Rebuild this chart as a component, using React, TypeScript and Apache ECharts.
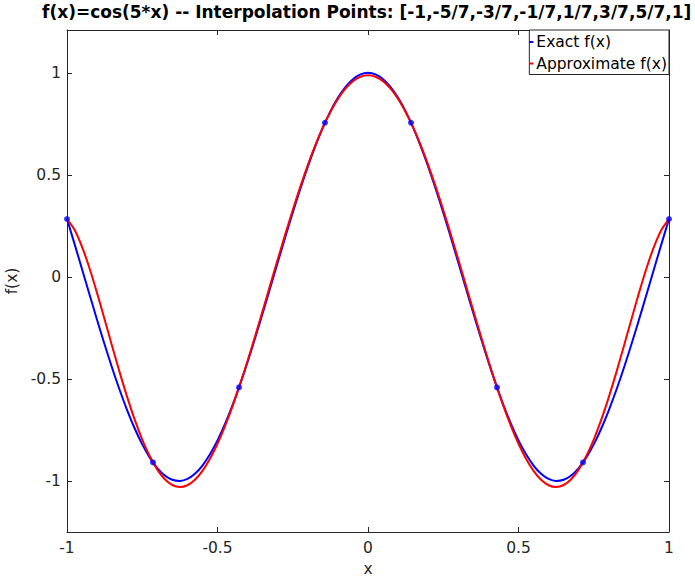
import React, { useEffect, useRef } from "react";
import * as echarts from "echarts";

const titleText = "f(x)=cos(5*x) -- Interpolation Points: [-1,-5/7,-3/7,-1/7,1/7,3/7,5/7,1]";
const seriesNames = ["Exact f(x)", "Approximate f(x)"];

const xs = [
  -1, -0.975, -0.95, -0.925, -0.9, -0.875, -0.85, -0.825, -0.8, -0.775, -0.75, -0.725, -0.7, -0.675,
  -0.65, -0.625, -0.6, -0.575, -0.55, -0.525, -0.5, -0.475, -0.45, -0.425, -0.4, -0.375, -0.35,
  -0.325, -0.3, -0.275, -0.25, -0.225, -0.2, -0.175, -0.15, -0.125, -0.1, -0.075, -0.05, -0.025, 0,
  0.025, 0.05, 0.075, 0.1, 0.125, 0.15, 0.175, 0.2, 0.225, 0.25, 0.275, 0.3, 0.325, 0.35, 0.375, 0.4,
  0.425, 0.45, 0.475, 0.5, 0.525, 0.55, 0.575, 0.6, 0.625, 0.65, 0.675, 0.7, 0.725, 0.75, 0.775, 0.8,
  0.825, 0.85, 0.875, 0.9, 0.925, 0.95, 0.975, 1,
];

const exactY = [
  0.2837, 0.1619, 0.0376, -0.0873, -0.2108, -0.331, -0.4461, -0.5542, -0.6536, -0.7429, -0.8206,
  -0.8854, -0.9365, -0.9729, -0.9941, -0.9999, -0.99, -0.9647, -0.9243, -0.8695, -0.8011, -0.7203,
  -0.6282, -0.5263, -0.4161, -0.2995, -0.1782, -0.0542, 0.0707, 0.1945, 0.3153, 0.4312, 0.5403, 0.641,
  0.7317, 0.811, 0.8776, 0.9305, 0.9689, 0.9922, 1,
  0.9922, 0.9689, 0.9305, 0.8776, 0.811, 0.7317, 0.641, 0.5403, 0.4312, 0.3153, 0.1945, 0.0707,
  -0.0542, -0.1782, -0.2995, -0.4161, -0.5263, -0.6282, -0.7203, -0.8011, -0.8695, -0.9243, -0.9647,
  -0.99, -0.9999, -0.9941, -0.9729, -0.9365, -0.8854, -0.8206, -0.7429, -0.6536, -0.5542, -0.4461,
  -0.331, -0.2108, -0.0873, 0.0376, 0.1619, 0.2837,
];

const approxY = [
  0.2837, 0.2313, 0.1476, 0.0415, -0.0795, -0.2083, -0.3394, -0.4677, -0.5888, -0.6995, -0.7969,
  -0.879, -0.9441, -0.9912, -1.0197, -1.0295, -1.0208, -0.9943, -0.9508, -0.8914, -0.8176, -0.7309,
  -0.6329, -0.5255, -0.4106, -0.2901, -0.166, -0.0402, 0.0853, 0.2086, 0.3279, 0.4415, 0.5478, 0.6453,
  0.7326, 0.8086, 0.8722, 0.9226, 0.9591, 0.9811, 0.9885,
  0.9811, 0.9591, 0.9226, 0.8722, 0.8086, 0.7326, 0.6453, 0.5478, 0.4415, 0.3279, 0.2086, 0.0853,
  -0.0402, -0.166, -0.2901, -0.4106, -0.5255, -0.6329, -0.7309, -0.8176, -0.8914, -0.9508, -0.9943,
  -1.0208, -1.0295, -1.0197, -0.9912, -0.9441, -0.879, -0.7969, -0.6995, -0.5888, -0.4677, -0.3394,
  -0.2083, -0.0795, 0.0415, 0.1476, 0.2313, 0.2837,
];

const nodeX = [-1, -0.7143, -0.4286, -0.1429, 0.1429, 0.4286, 0.7143, 1];
const nodeY = [0.2837, -0.909, -0.5414, 0.7556, 0.7556, -0.5414, -0.909, 0.2837];

const tickValues = [-1, -0.5, 0, 0.5, 1];

export default function App() {
  const ref = useRef<HTMLDivElement>(null);
  useEffect(() => {
    const chart = echarts.init(ref.current!, null, { renderer: "svg" });
    const axisColor = "#262626";
    const font = "DejaVu Sans";
    const fs = 15.5;
    const baseAxis = (extra: any) => ({
      type: "value",
      splitLine: { show: false },
      axisLine: { show: true, onZero: false, lineStyle: { color: axisColor, width: 1 } },
      axisTick: { show: true, inside: true, length: 5, customValues: tickValues, lineStyle: { color: axisColor } },
      ...extra,
    });
    chart.setOption({
      animation: false,
      backgroundColor: "#ffffff",
      title: {
        text: titleText,
        left: 42,
        top: 3,
        padding: 0,
        textStyle: { fontFamily: font, fontWeight: "bold", fontSize: 17, color: "#000" },
      },
      grid: { left: 67, right: 26, top: 30, bottom: 45, containLabel: false, outerBoundsMode: "none" },
      legend: {
        data: seriesNames,
        orient: "vertical",
        right: 26,
        top: 30,
        icon: "rect",
        itemWidth: 4,
        itemHeight: 2,
        itemGap: 3.5,
        padding: [3, 2, 2, 0],
        backgroundColor: "#fff",
        borderColor: axisColor,
        borderWidth: 1,
        textStyle: { fontFamily: font, fontSize: fs, color: "#000", lineHeight: 18, padding: [0, 0, 0, -2] },
      },
      xAxis: [
        baseAxis({
          position: "bottom",
          min: -1,
          max: 1,
          name: "x",
          nameLocation: "middle",
          nameGap: 26,
          nameTextStyle: { fontFamily: font, fontSize: fs, color: axisColor },
          axisLabel: { show: true, customValues: tickValues, margin: 8, fontFamily: font, fontSize: fs, color: axisColor },
        }),
        baseAxis({
          position: "top",
          min: -1,
          max: 1,
          axisLabel: { show: false },
        }),
      ],
      yAxis: [
        baseAxis({
          position: "left",
          min: -1.25,
          max: 1.21,
          name: "f(x)",
          nameLocation: "middle",
          nameGap: 33,
          nameRotate: 90,
          nameTextStyle: { fontFamily: font, fontSize: fs, color: axisColor },
          axisLabel: { show: true, customValues: tickValues, margin: 6, fontFamily: font, fontSize: fs, color: axisColor },
        }),
        baseAxis({
          position: "right",
          min: -1.25,
          max: 1.21,
          axisLabel: { show: false },
        }),
      ],
      series: [
        {
          name: seriesNames[0],
          type: "line",
          xAxisIndex: 0,
          yAxisIndex: 0,
          data: xs.map((x, i) => [x, exactY[i]]),
          showSymbol: false,
          smooth: 0.3,
          lineStyle: { color: "#0000ff", width: 2 },
          itemStyle: { color: "#0000ff" },
          z: 2,
        },
        {
          name: seriesNames[1],
          type: "line",
          xAxisIndex: 0,
          yAxisIndex: 0,
          data: xs.map((x, i) => [x, approxY[i]]),
          showSymbol: false,
          smooth: 0.3,
          lineStyle: { color: "#ff0000", width: 2 },
          itemStyle: { color: "#ff0000" },
          z: 3,
        },
        {
          name: "nodes",
          type: "scatter",
          xAxisIndex: 0,
          yAxisIndex: 0,
          data: nodeX.map((x, i) => [x, nodeY[i]]),
          symbol: "circle",
          symbolSize: 6,
          itemStyle: { color: "#0000ff" },
          z: 4,
        },
      ],
    });
    return () => chart.dispose();
  }, []);
  return <div ref={ref} style={{ position: "fixed", left: 0, top: 0, width: 695, height: 577 }} />;
}
